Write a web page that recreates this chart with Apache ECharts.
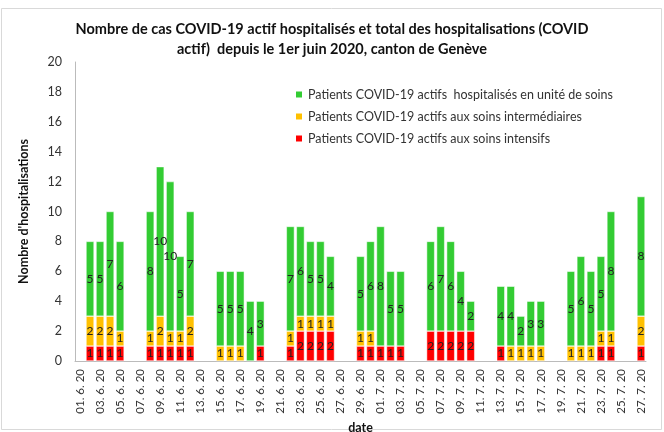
<!DOCTYPE html>
<html>
<head>
<meta charset="utf-8">
<script src="https://cdn.jsdelivr.net/npm/echarts@6/dist/echarts.min.js"></script>
<style>
  html, body { margin: 0; padding: 0; background: #fff; }
  #chart { width: 664px; height: 432px; }
</style>
</head>
<body>
<div id="chart"></div>
<script>
// dates 01.6.20 .. 27.7.20, one per day
const dates = [
  '01. 6. 20','02. 6. 20','03. 6. 20','04. 6. 20','05. 6. 20','06. 6. 20','07. 6. 20','08. 6. 20','09. 6. 20','10. 6. 20',
  '11. 6. 20','12. 6. 20','13. 6. 20','14. 6. 20','15. 6. 20','16. 6. 20','17. 6. 20','18. 6. 20','19. 6. 20','20. 6. 20',
  '21. 6. 20','22. 6. 20','23. 6. 20','24. 6. 20','25. 6. 20','26. 6. 20','27. 6. 20','28. 6. 20','29. 6. 20','30. 6. 20',
  '01. 7. 20','02. 7. 20','03. 7. 20','04. 7. 20','05. 7. 20','06. 7. 20','07. 7. 20','08. 7. 20','09. 7. 20','10. 7. 20',
  '11. 7. 20','12. 7. 20','13. 7. 20','14. 7. 20','15. 7. 20','16. 7. 20','17. 7. 20','18. 7. 20','19. 7. 20','20. 7. 20',
  '21. 7. 20','22. 7. 20','23. 7. 20','24. 7. 20','25. 7. 20','26. 7. 20','27. 7. 20'
];

// soins intensifs (red)
const intensifs = [
  0,1,1,1,1,0,0,1,1,1, 1,1,0,0,0,0,0,0,1,0,
  0,1,2,2,2,2,0,0,1,1, 1,1,1,0,0,2,2,2,2,2,
  0,0,1,0,0,0,0,0,0,0, 0,0,1,1,0,0,1
];
// soins intermédiaires (orange)
const intermediaires = [
  0,2,2,2,1,0,0,1,2,1, 1,2,0,0,1,1,1,0,0,0,
  0,1,1,1,1,1,0,0,1,1, 0,0,0,0,0,0,0,0,0,0,
  0,0,0,1,1,1,1,0,0,1, 1,1,1,1,0,0,2
];
// unité de soins (green)
const unite = [
  0,5,5,7,6,0,0,8,10,10, 5,7,0,0,5,5,5,4,3,0,
  0,7,6,5,5,4,0,0,5,6, 8,5,5,0,0,6,7,6,4,2,
  0,0,4,4,2,3,3,0,0,5, 6,5,5,8,0,0,8
];

const legendNames = [
  'Patients COVID-19 actifs  hospitalisés en unité de soins',
  'Patients COVID-19 actifs aux soins intermédiaires',
  'Patients COVID-19 actifs aux soins intensifs'
];

const font = 'Lato, Open Sans, sans-serif';

function toData(arr) {
  return arr.map(v => (v > 0 ? v : null));
}

function barSeries(name, data, color) {
  return {
    name: name,
    type: 'bar',
    stack: 'total',
    barCategoryGap: '20%',
    data: toData(data),
    itemStyle: { color: color, borderColor: '#fff', borderWidth: 0.5 },
    label: {
      show: true,
      position: 'inside',
      color: '#222',
      fontSize: 12,
      fontFamily: font,
      formatter: p => (p.value ? p.value : '')
    },
    emphasis: { disabled: true }
  };
}

const chart = echarts.init(document.getElementById('chart'));

chart.setOption({
  animation: false,
  backgroundColor: '#fff',
  title: {
    text: 'Nombre de cas COVID-19 actif hospitalisés et total des hospitalisations (COVID\nactif)  depuis le 1er juin 2020, canton de Genève',
    left: 'center',
    top: 14,
    textStyle: { fontSize: 14.5, fontWeight: 'bold', color: '#111', fontFamily: font, lineHeight: 20, align: 'center' }
  },
  legend: {
    orient: 'vertical',
    left: 289,
    top: 83,
    itemWidth: 8,
    itemHeight: 8,
    itemGap: 9,
    icon: 'rect',
    data: legendNames,
    textStyle: { fontSize: 12.5, color: '#333', fontFamily: font }
  },
  grid: { left: 75, right: 18, top: 62, bottom: 71, outerBoundsMode: 'none' },
  xAxis: {
    type: 'category',
    data: dates,
    name: 'date',
    nameLocation: 'middle',
    nameGap: 55,
    nameTextStyle: { fontWeight: 'bold', fontSize: 12.5, color: '#111', fontFamily: font },
    axisLine: { lineStyle: { color: '#bbb' } },
    axisTick: { show: false },
    axisLabel: { interval: 1, rotate: 90, fontSize: 11.5, color: '#333', fontFamily: font, margin: 8 }
  },
  yAxis: {
    type: 'value',
    min: 0,
    max: 20,
    interval: 2,
    name: "Nombre d'hospitalisations",
    nameLocation: 'middle',
    nameGap: 45,
    nameTextStyle: { fontWeight: 'bold', fontSize: 12.5, color: '#111', fontFamily: font },
    axisLine: { show: true, lineStyle: { color: '#bbb' } },
    axisTick: { show: false },
    splitLine: { show: false },
    axisLabel: { fontSize: 12.5, color: '#333', fontFamily: font, margin: 13 }
  },
  series: [
    barSeries(legendNames[2], intensifs, '#ff0000'),
    barSeries(legendNames[1], intermediaires, '#ffc000'),
    barSeries(legendNames[0], unite, '#33cc33')
  ],
  graphic: [{
    type: 'rect',
    shape: { x: 1.5, y: 8.5, width: 660, height: 421 },
    style: { fill: 'none', stroke: '#d9d9d9', lineWidth: 1 },
    silent: true
  }]
});
</script>
</body>
</html>
